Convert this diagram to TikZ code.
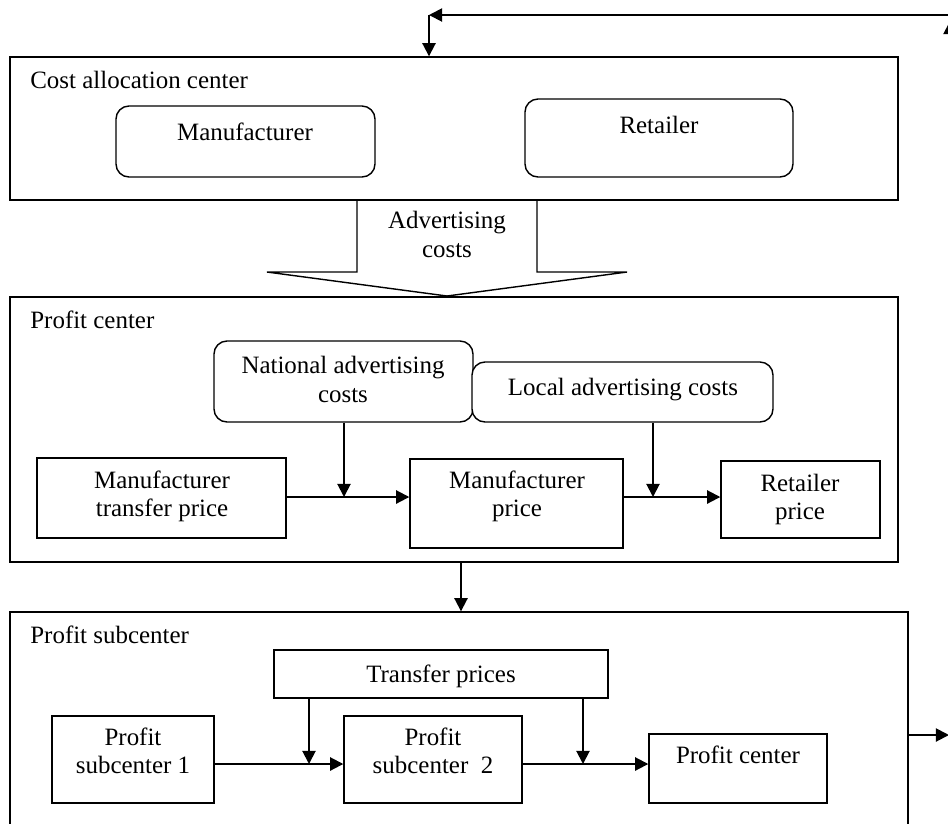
\documentclass[tikz,border=0pt]{standalone}
\usepackage{fontspec}
\setmainfont{Liberation Serif}
\usetikzlibrary{arrows.meta,fit}
\begin{document}
\begin{tikzpicture}[x=0.02cm,y=-0.02cm,
  box/.style={draw, line width=0.8pt, fill=white, inner sep=0pt},
  rbox/.style={box, rounded corners=0.26cm},
  txt/.style={font=\fontsize{14.2}{17}\selectfont, inner sep=0pt, anchor=base},
  ttl/.style={txt, anchor=base west},
  arr/.style={line width=1.1pt, -{Triangle[length=7.5pt,width=7.5pt]}}]
\useasboundingbox (0,0) rectangle (948,823);

% ---------- cost allocation center ----------
\node[box, fit={(10,57) (898,200)}] (cac) {};
\node[ttl] (cacT) at (30,88) {Cost allocation center};
\node[rbox, fit={(116,106) (375,177)}] (man) {};
\node[txt] (manT) at (245,140) {Manufacturer};
\node[rbox, fit={(525,99) (793,177)}] (ret) {};
\node[txt] (retT) at (659,133) {Retailer};

% ---------- big arrow ----------
\draw[line width=0.8pt] (357,200) -- (357,272) -- (267,272) -- (447,296)
  -- (627,272) -- (537,272) -- (537,200);
\node[txt] (adv1) at (447,228) {Advertising};
\node[txt] (adv2) at (447,257) {costs};

% ---------- profit center ----------
\node[box, fit={(10,297) (898,562)}] (pc) {};
\node[ttl] (pcT) at (30,328) {Profit center};
\node[rbox, fit={(214,341) (473,422)}] (nat) {};
\node[txt] (nat1) at (343,373) {National advertising};
\node[txt] (nat2) at (343,402) {costs};
\node[rbox, fit={(472,362) (773,422)}] (loc) {};
\node[txt] (locT) at (623,395) {Local advertising costs};

\node[box, fit={(37,458) (286,538)}] (mtp) {};
\node[txt] (mtp1) at (162,488) {Manufacturer};
\node[txt] (mtp2) at (162,516) {transfer price};
\node[box, fit={(410,459) (623,548)}] (mp) {};
\node[txt] (mp1) at (517,488) {Manufacturer};
\node[txt] (mp2) at (517,516) {price};
\node[box, fit={(721,461) (880,538)}] (rp) {};
\node[txt] (rp1) at (800,491) {Retailer};
\node[txt] (rp2) at (800,519) {price};

\coordinate (row1) at (0,497);
\coordinate (j1) at (344,497);
\coordinate (j2) at (653,497);
\draw[arr] (mtp.east |- row1) -- (mp.west |- row1);
\draw[arr] (nat.south -| j1) -- (j1);
\draw[arr] (mp.east |- row1) -- (rp.west |- row1);
\draw[arr] (loc.south -| j2) -- (j2);

% ---------- profit subcenter ----------
\node[box, fit={(10,612) (908,830)}] (psc) {};
\node[ttl] (pscT) at (30,643) {Profit subcenter};
\node[box, fit={(274,650) (608,698)}] (tp) {};
\node[txt] (tpT) at (441,682) {Transfer prices};
\node[box, fit={(52,716) (214,803)}] (ps1) {};
\node[txt] (ps1a) at (133,745) {Profit};
\node[txt] (ps1b) at (133,773) {subcenter 1};
\node[box, fit={(344,716) (522,803)}] (ps2) {};
\node[txt] (ps2a) at (433,745) {Profit};
\node[txt] (ps2b) at (433,773) {subcenter\ \ 2};
\node[box, fit={(649,734) (827,803)}] (pcs) {};
\node[txt] (pcsT) at (738,763) {Profit center};

\coordinate (row2) at (0,764);
\coordinate (j3) at (309,764);
\coordinate (j4) at (583,764);
\draw[arr] (ps1.east |- row2) -- (ps2.west |- row2);
\draw[arr] (tp.south -| j3) -- (j3);
\draw[arr] (ps2.east |- row2) -- (pcs.west |- row2);
\draw[arr] (tp.south -| j4) -- (j4);

% ---------- connections between centers ----------
\coordinate (dn) at (461,0);
\draw[arr] (pc.south -| dn) -- (psc.north -| dn);
\coordinate (ex) at (949,735);
\draw[arr] (psc.east |- ex) -- (ex);
\coordinate (fbR) at (952,15);
\coordinate (fbC) at (429,15);
\draw[arr] (fbR) -- (fbC);
\draw[arr] (fbC) -- (cac.north -| fbC);
\coordinate (upA) at (950,70);
\coordinate (upB) at (950,21);
\draw[arr] (upA) -- (upB);
\end{tikzpicture}
\end{document}
